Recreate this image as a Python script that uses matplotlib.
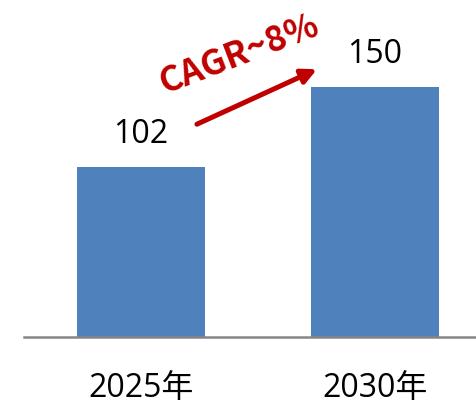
import matplotlib.pyplot as plt
import matplotlib.transforms as mtransforms

plt.rcParams['font.family'] = ['Open Sans', 'Noto Sans CJK SC', 'DejaVu Sans']

# data
categories = ['2025年', '2030年']
values = [102, 150]
cagr_label = 'CAGR~8%'

bar_color = '#4F81BD'
accent = '#C00000'

fig = plt.figure(figsize=(4.77, 4.06), dpi=100)
ax = fig.add_axes([24 / 477, 68 / 406, 453 / 477, 338 / 406])

x = list(range(len(categories)))
ax.bar(x, values, width=0.547, color=bar_color, zorder=2)

ax.set_xlim(-0.5, 1.436)
ax.set_ylim(0, 203)

# value labels above bars
for xi, v in zip(x, values):
    ax.text(xi, v + 15, str(v), ha='center', va='baseline', fontsize=23, color='black')

# category labels under the axis
trans = mtransforms.blended_transform_factory(ax.transData, ax.transAxes)
for xi, c in zip(x, categories):
    ax.text(xi, -0.198, c, transform=trans, ha='center', va='bottom', fontsize=23, color='black')

# growth arrow and label
ax.annotate('', xy=(0.752, 160.8), xytext=(0.239, 127.8),
            arrowprops=dict(arrowstyle='-|>', lw=3.6, color=accent, mutation_scale=22,
                            shrinkA=0, shrinkB=0))
ax.text(0.419, 170.4, cagr_label, ha='center', va='center', rotation=21,
        fontsize=25, fontweight='bold', color=accent, family=['Noto Sans CJK SC'])

# only the baseline is visible
for side in ['top', 'right', 'left']:
    ax.spines[side].set_visible(False)
ax.spines['bottom'].set_color('#868686')
ax.spines['bottom'].set_linewidth(1.8)
ax.set_xticks([])
ax.set_yticks([])

fig.savefig('out.png', dpi=100)
